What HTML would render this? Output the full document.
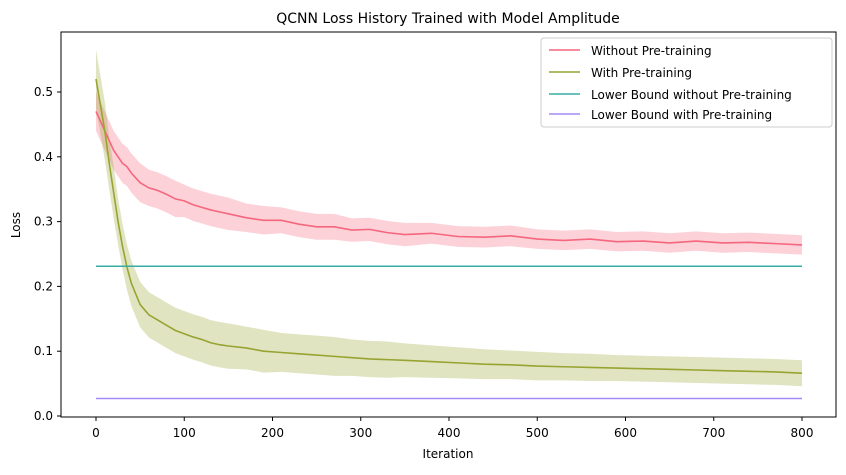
<!DOCTYPE html>
<html><head><meta charset="utf-8"><style>
body{margin:0;background:#fff;}
svg text{font-family:"DejaVu Sans","Liberation Sans",sans-serif;fill:#000;}
</style></head><body>
<svg id="chart" width="846" height="470" xmlns="http://www.w3.org/2000/svg">
<rect width="846" height="470" fill="#fff"/>
<g id="bands"></g><g id="lines"></g>
<rect x="61" y="32" width="775" height="385" fill="none" stroke="#000" stroke-width="1"/>
<g id="axes"></g>
<text x="448" y="23" font-size="14" text-anchor="middle">QCNN Loss History Trained with Model Amplitude</text>
<text x="448" y="458" font-size="12" text-anchor="middle">Iteration</text>
<text x="20" y="225" font-size="12" text-anchor="middle" transform="rotate(-90 20 225)">Loss</text>
<g>
<rect x="541" y="38" width="291" height="89" rx="3" fill="#fff" fill-opacity="0.8" stroke="#ccc"/>
<line x1="549" x2="580" y1="50" y2="50" stroke="#f5677e" stroke-width="1.5"/><text x="591" y="55" font-size="12">Without Pre-training</text>
<line x1="549" x2="580" y1="72" y2="72" stroke="#97a431" stroke-width="1.5"/><text x="591" y="77" font-size="12">With Pre-training</text>
<line x1="549" x2="580" y1="94" y2="94" stroke="#36ada4" stroke-width="1.5"/><text x="591" y="99" font-size="12">Lower Bound without Pre-training</text>
<line x1="549" x2="580" y1="114" y2="114" stroke="#a48cf4" stroke-width="1.5"/><text x="591" y="119" font-size="12">Lower Bound with Pre-training</text>
</g>
</svg>
<script>
const iters=[0,5,10,15,20,25,30,35,40,50,60,70,80,90,100,110,120,130,140,150,170,190,210,230,250,270,290,310,330,350,380,410,440,470,500,530,560,590,620,650,680,710,740,770,800];
const lossWithout=[0.47,0.455,0.44,0.425,0.41,0.40,0.39,0.385,0.375,0.36,0.352,0.348,0.342,0.335,0.332,0.326,0.322,0.318,0.315,0.312,0.306,0.302,0.302,0.296,0.292,0.292,0.287,0.288,0.283,0.28,0.282,0.277,0.276,0.278,0.273,0.271,0.273,0.269,0.27,0.267,0.27,0.267,0.268,0.266,0.264];
const lossWith=[0.52,0.48,0.44,0.39,0.345,0.3,0.262,0.23,0.205,0.172,0.156,0.148,0.14,0.132,0.127,0.122,0.118,0.113,0.11,0.108,0.105,0.10,0.098,0.096,0.094,0.092,0.09,0.088,0.087,0.086,0.084,0.082,0.08,0.079,0.077,0.076,0.075,0.074,0.073,0.072,0.071,0.07,0.069,0.068,0.066];
const spreadWithout=[0.03,0.03,0.03,0.03,0.03,0.03,0.03,0.03,0.03,0.03,0.028,0.028,0.028,0.028,0.025,0.025,0.025,0.025,0.025,0.025,0.022,0.022,0.02,0.02,0.02,0.02,0.018,0.018,0.018,0.018,0.016,0.016,0.016,0.016,0.015,0.015,0.015,0.015,0.015,0.015,0.015,0.015,0.015,0.015,0.015];
const spreadWith=[0.045,0.045,0.045,0.04,0.04,0.035,0.035,0.035,0.035,0.035,0.035,0.035,0.035,0.035,0.035,0.035,0.035,0.035,0.035,0.035,0.033,0.033,0.03,0.03,0.03,0.03,0.028,0.028,0.028,0.026,0.025,0.024,0.023,0.022,0.022,0.021,0.021,0.02,0.02,0.02,0.02,0.02,0.02,0.02,0.02];
const lowerBounds=[0.231,0.027];
const xTicks=[0,100,200,300,400,500,600,700,800];
const yTicks=[0.0,0.1,0.2,0.3,0.4,0.5];
const X=v=>96+v*0.8825, Y=v=>416-v*648;
const NS="http://www.w3.org/2000/svg";
function mk(tag,attrs,parent){const e=document.createElementNS(NS,tag);for(const k in attrs)e.setAttribute(k,attrs[k]);document.getElementById(parent).appendChild(e);return e;}
function band(m,s,color,name){
  let d="M"+iters.map((t,i)=>X(t)+","+Y(m[i]+s[i])).join("L");
  d+="L"+iters.slice().reverse().map((t,j)=>{const i=iters.length-1-j;return X(t)+","+Y(m[i]-s[i]);}).join("L")+"Z";
  const e=mk("path",{d:d,fill:color,"fill-opacity":"0.3"},"bands");
  
  
}
function line(m,color,name){
  const e=mk("polyline",{points:iters.map((t,i)=>X(t)+","+Y(m[i])).join(" "),fill:"none",stroke:color,"stroke-width":"1.6"},"lines");
  
  
}
band(lossWithout,spreadWithout,"#f5677e","band-without");
band(lossWith,spreadWith,"#97a431","band-with");
line(lossWithout,"#f5677e","line-without-pretraining");
line(lossWith,"#97a431","line-with-pretraining");
const lbColors=["#36ada4","#a48cf4"];
lowerBounds.forEach((v,i)=>{
  const e=mk("line",{x1:X(0),x2:X(800),y1:Y(v),y2:Y(v),stroke:lbColors[i],"stroke-width":"1.5"},"lines");
  
  
});
xTicks.forEach(t=>{
  const l=mk("line",{x1:X(t),x2:X(t),y1:417,y2:421,stroke:"#000"},"axes");
  
  
  const tx=mk("text",{x:X(t),y:437,"font-size":"12","text-anchor":"middle"},"axes");
  tx.textContent=t;
  
  
});
yTicks.forEach(t=>{
  const l=mk("line",{x1:57,x2:61,y1:Y(t),y2:Y(t),stroke:"#000"},"axes");
  
  
  const tx=mk("text",{x:53,y:Y(t)+4,"font-size":"12","text-anchor":"end"},"axes");
  tx.textContent=t.toFixed(1);
  
  
});
</script>
</body></html>
